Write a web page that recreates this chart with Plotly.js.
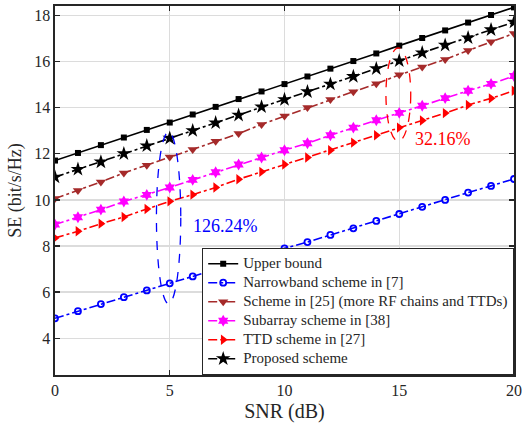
<!DOCTYPE html>
<html>
<head>
<meta charset="utf-8">
<script src="https://cdn.plot.ly/plotly-3.0.1.min.js"></script>
<style>html,body{margin:0;padding:0;background:#fff;}#chart{width:522px;height:423px;}</style>
</head>
<body>
<div id="chart"></div>
<script>
var snr = [0,1,2,3,4,5,6,7,8,9,10,11,12,13,14,15,16,17,18,19,20];
var upperBound = [11.71,12.04,12.38,12.71,13.04,13.36,13.71,14.04,14.38,14.71,15.03,15.36,15.70,16.03,16.36,16.70,17.03,17.36,17.70,18.03,18.36];
var narrowband = [4.86,5.17,5.48,5.78,6.07,6.38,6.68,6.99,7.29,7.59,7.90,8.17,8.48,8.77,9.09,9.39,9.70,10.00,10.32,10.61,10.91];
var scheme25 = [10.06,10.41,10.78,11.17,11.51,11.86,12.19,12.55,12.88,13.28,13.64,14.01,14.36,14.70,15.04,15.43,15.77,16.10,16.49,16.87,17.23];
var subarray = [8.93,9.25,9.58,9.93,10.22,10.54,10.87,11.20,11.54,11.84,12.16,12.46,12.81,13.14,13.46,13.78,14.09,14.42,14.74,15.04,15.38];
var ttd = [8.35,8.64,8.97,9.26,9.61,9.94,10.23,10.54,10.90,11.22,11.54,11.84,12.16,12.49,12.81,13.14,13.45,13.77,14.12,14.41,14.74];
var proposed = [10.99,11.33,11.65,12.01,12.35,12.68,13.01,13.35,13.68,14.04,14.36,14.70,15.03,15.36,15.70,16.04,16.39,16.72,17.04,17.39,17.72];
var names = ['Upper bound','Narrowband scheme in [7]','Scheme in [25] (more RF chains and TTDs)','Subarray scheme in [38]','TTD scheme in [27]','Proposed scheme'];
var xTicks = [0,5,10,15,20];
var yTicks = [4,6,8,10,12,14,16,18];

var FONT = "'Liberation Serif', 'Times New Roman', serif";
function legName(s) { return '<span style="font-size:15px">' + s + '</span>'; }

var traces = [
  {x: snr, y: upperBound, name: legName(names[0]), mode: 'lines+markers',
   line: {color: '#000000', width: 1.6, dash: 'solid'},
   marker: {symbol: 'square', size: 6, color: '#000000'}},
  {x: snr, y: narrowband, name: legName(names[1]), mode: 'lines+markers',
   line: {color: '#0000ff', width: 1.6, dash: 'dashdot'},
   marker: {symbol: 'circle-open', size: 6, color: '#0000ff', line: {width: 1.8, color: '#0000ff'}}},
  {x: snr, y: scheme25, name: legName(names[2]), mode: 'lines+markers',
   line: {color: '#a52a2a', width: 1.6, dash: 'dashdot'},
   marker: {symbol: 'triangle-down', size: 9, color: '#a52a2a'}},
  {x: snr, y: subarray, name: legName(names[3]), mode: 'lines+markers',
   line: {color: '#ff00ff', width: 1.6, dash: 'dashdot'},
   marker: {symbol: 'hexagram', size: 9, color: '#ff00ff'}},
  {x: snr, y: ttd, name: legName(names[4]), mode: 'lines+markers',
   line: {color: '#ff0000', width: 1.6, dash: 'dashdot'},
   marker: {symbol: 'triangle-right', size: 9, color: '#ff0000'}},
  {x: snr, y: proposed, name: legName(names[5]), mode: 'lines+markers',
   line: {color: '#000000', width: 1.6, dash: 'dashdot'},
   marker: {symbol: 'star', size: 11, color: '#000000'}}
];

var axisCommon = {
  showgrid: true, gridcolor: '#dcdcdc', gridwidth: 1.2,
  showline: true, linecolor: '#262626', linewidth: 1.6, mirror: 'ticks',
  ticks: 'inside', ticklen: 5, tickwidth: 1.2, tickcolor: '#262626',
  zeroline: false,
  tickfont: {family: FONT, size: 16, color: '#262626'}
};

var layout = {
  width: 522, height: 423,
  margin: {l: 55, r: 8, t: 6, b: 48},
  paper_bgcolor: '#ffffff', plot_bgcolor: '#ffffff',
  font: {family: FONT, color: '#262626'},
  xaxis: Object.assign({}, axisCommon, {
    range: [0, 20], tickvals: xTicks, ticktext: xTicks.map(String),
    title: {text: 'SNR (dB)', font: {family: FONT, size: 20, color: '#262626'}, standoff: 6}
  }),
  yaxis: Object.assign({}, axisCommon, {
    range: [2.4, 18.42], tickvals: yTicks, ticktext: yTicks.map(String),
    title: {text: 'SE (bit/s/Hz)', font: {family: FONT, size: 18, color: '#262626'}, standoff: 8}
  }),
  legend: {
    x: 1, y: 0, xanchor: 'right', yanchor: 'bottom',
    bgcolor: '#ffffff', bordercolor: '#262626', borderwidth: 1.2,
    font: {family: FONT, size: 11, color: '#262626'},
    tracegroupgap: 0, itemwidth: 30
  },
  shapes: [
    {type: 'circle', xref: 'x', yref: 'y', x0: 4.42, x1: 5.48, y0: 5.5, y1: 12.95,
     line: {color: '#0000ff', width: 1.3, dash: 'dash'}},
    {type: 'circle', xref: 'x', yref: 'y', x0: 14.42, x1: 15.5, y0: 12.55, y1: 16.6,
     line: {color: '#ff0000', width: 1.3, dash: 'dash'}}
  ],
  annotations: [
    {x: 7.43, y: 8.86, xref: 'x', yref: 'y', text: '126.24%', showarrow: false,
     font: {family: FONT, size: 18, color: '#0000ff'}},
    {x: 16.9, y: 12.65, xref: 'x', yref: 'y', text: '32.16%', showarrow: false,
     font: {family: FONT, size: 18, color: '#ff0000'}}
  ],
  showlegend: true
};

Plotly.newPlot('chart', traces, layout, {displayModeBar: false, staticPlot: true});
</script>
</body>
</html>
